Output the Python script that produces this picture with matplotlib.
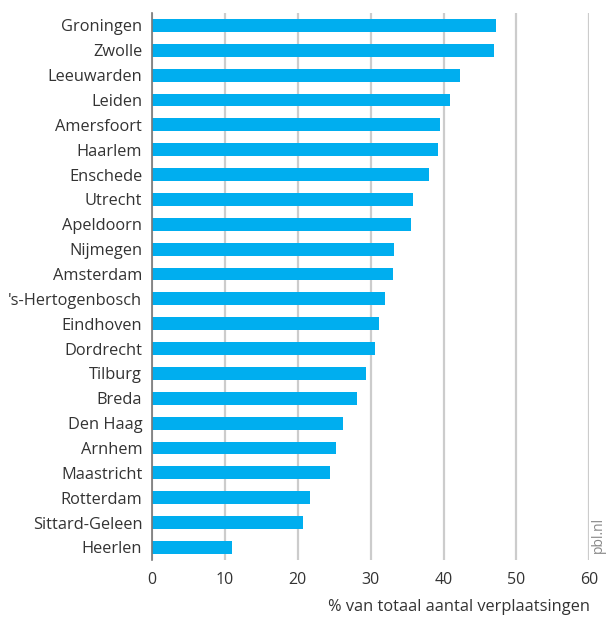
import matplotlib
matplotlib.use('Agg')
import matplotlib.pyplot as plt
import numpy as np

plt.rcParams['font.family'] = ['Open Sans', 'DejaVu Sans']

cities = ['Groningen', 'Zwolle', 'Leeuwarden', 'Leiden', 'Amersfoort', 'Haarlem',
          'Enschede', 'Utrecht', 'Apeldoorn', 'Nijmegen', 'Amsterdam',
          "'s-Hertogenbosch", 'Eindhoven', 'Dordrecht', 'Tilburg', 'Breda',
          'Den Haag', 'Arnhem', 'Maastricht', 'Rotterdam', 'Sittard-Geleen', 'Heerlen']
values = [47.2, 46.9, 42.3, 40.9, 39.5, 39.2,
          38.0, 35.8, 35.5, 33.2, 33.1,
          32.0, 31.1, 30.6, 29.4, 28.1,
          26.2, 25.2, 24.4, 21.7, 20.7, 11.0]
xticks = [0, 10, 20, 30, 40, 50, 60]

fig = plt.figure(figsize=(6.09, 6.18), dpi=100)
ax = fig.add_axes([0.2496, 0.094, 0.718, 0.885])

y = np.arange(len(cities))[::-1]
ax.barh(y, values, height=0.52, color='#00aeef', zorder=3)

ax.set_xlim(0, 60)
ax.set_ylim(-0.5, len(cities) - 0.5)
ax.set_yticks(y)
ax.set_yticklabels(cities, fontsize=11.8, color='#333333')
ax.set_xticks(xticks)
ax.set_xticklabels([str(t) for t in xticks], fontsize=11.5, color='#333333')
ax.tick_params(axis='both', length=0)
ax.tick_params(axis='y', pad=7)
ax.tick_params(axis='x', pad=9)

for s in ['top', 'right', 'bottom']:
    ax.spines[s].set_visible(False)
ax.spines['left'].set_color('#777777')
ax.spines['left'].set_linewidth(1.2)
ax.spines['left'].set_zorder(4)

ax.grid(axis='x', color='#cccccc', linewidth=1.6, zorder=0)
ax.set_axisbelow(True)

fig.text(0.969, 0.005, '% van totaal aantal verplaatsingen', ha='right', va='bottom',
         fontsize=11.8, color='#333333')
fig.text(0.982, 0.135, 'pbl.nl', rotation=90, ha='center', va='center',
         fontsize=10, color='#888888')

fig.savefig('out.png', dpi=100)
